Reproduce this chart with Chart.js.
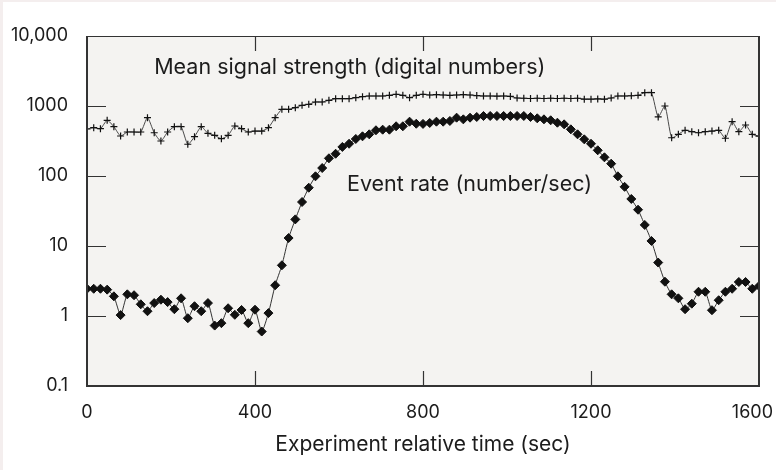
<!DOCTYPE html>
<html lang="en">
<head>
<meta charset="UTF-8">
<title>Event rate and mean signal strength</title>
<script src="https://cdn.jsdelivr.net/npm/chart.js@4.4.0/dist/chart.umd.min.js"></script>
<style>
  html, body { margin: 0; padding: 0; background: #f4eeee; }
  #wrap { width: 776px; height: 470px; }
</style>
</head>
<body>
<div id="wrap"><canvas id="chart" width="776" height="470"></canvas></div>
<script>
// Sample times (sec), one reading every 16 s
const timeSec = [
  0, 16, 32, 48, 64, 80, 96, 112, 128, 144,
  160, 176, 192, 208, 224, 240, 256, 272, 288, 304,
  320, 336, 352, 368, 384, 400, 416, 432, 448, 464,
  480, 496, 512, 528, 544, 560, 576, 592, 608, 624,
  640, 656, 672, 688, 704, 720, 736, 752, 768, 784,
  800, 816, 832, 848, 864, 880, 896, 912, 928, 944,
  960, 976, 992, 1008, 1024, 1040, 1056, 1072, 1088, 1104,
  1120, 1136, 1152, 1168, 1184, 1200, 1216, 1232, 1248, 1264,
  1280, 1296, 1312, 1328, 1344, 1360, 1376, 1392, 1408, 1424,
  1440, 1456, 1472, 1488, 1504, 1520, 1536, 1552, 1568, 1584, 1600
];

// Mean signal strength (digital numbers)
const signalStrength = [
  469, 490, 474, 625, 506, 373, 425, 425, 425, 681,
  415, 316, 425, 506, 506, 284, 364, 506, 407, 381,
  341, 381, 518, 474, 425, 439, 439, 490, 681, 897,
  897, 946, 1023, 1058, 1141, 1141, 1206, 1271, 1271, 1271,
  1315, 1359, 1389, 1389, 1389, 1422, 1469, 1422, 1315, 1422,
  1469, 1436, 1450, 1436, 1422, 1436, 1450, 1436, 1410, 1389,
  1389, 1380, 1389, 1370, 1300, 1290, 1280, 1290, 1280, 1290,
  1280, 1290, 1280, 1290, 1250, 1250, 1260, 1250, 1300, 1389,
  1389, 1400, 1422, 1549, 1549, 697, 1000, 352, 394, 450,
  430, 415, 430, 439, 450, 346, 597, 430, 535, 394, 372
];

// Event rate (number/sec)
const eventRate = [
  2.45, 2.45, 2.45, 2.38, 1.91, 1.03, 2.04, 1.98, 1.47, 1.17,
  1.53, 1.71, 1.58, 1.25, 1.79, 0.93, 1.38, 1.17, 1.53, 0.73,
  0.79, 1.29, 1.04, 1.22, 0.79, 1.23, 0.60, 1.10, 2.75, 5.3,
  13, 24, 42.5, 68, 99, 130, 179, 208, 260, 289,
  338, 369, 394, 450, 459, 459, 513, 513, 597, 558,
  555, 572, 597, 597, 611, 681, 645, 681, 697, 720,
  720, 720, 720, 720, 720, 720, 697, 667, 645, 625,
  577, 547, 464, 394, 334, 289, 233, 185, 150, 99,
  70, 47, 33, 20, 11.8, 5.8, 3.09, 2.04, 1.79, 1.25,
  1.50, 2.22, 2.22, 1.21, 1.68, 2.22, 2.45, 3.06, 3.06, 2.45, 2.68
];

const yTickValues = [0.1, 1, 10, 100, 1000, 10000];
const yTickLabels = ['0.1', '1', '10', '100', '1000', '10,000'];
const xTickValues = [0, 400, 800, 1200, 1600];
const xTickLabels = ['0', '400', '800', '1200', '1600'];

const INK = '#1c1c1c';
const FONT = 'Inter, "Liberation Sans", sans-serif';
Chart.defaults.font.family = FONT;
Chart.defaults.color = INK;

// page edge, white card and grey plot panel; frame, inner ticks and captions on top
const panel = {
  id: 'panel',
  beforeDraw(chart) {
    const { ctx, width, height, chartArea: a } = chart;
    ctx.save();
    ctx.fillStyle = '#f4eeee';
    ctx.fillRect(0, 0, width, height);
    ctx.fillStyle = '#ffffff';
    ctx.fillRect(3, 2, width - 3, height - 2);
    ctx.fillStyle = '#f4f3f1';
    ctx.fillRect(a.left, a.top, a.right - a.left, a.bottom - a.top);
    ctx.restore();
  },
  afterDraw(chart) {
    const { ctx, width, chartArea: a, scales: { x, y } } = chart;
    ctx.save();
    ctx.strokeStyle = '#333';
    // frame
    ctx.lineWidth = 2;
    ctx.beginPath();
    ctx.moveTo(a.left, a.top);
    ctx.lineTo(a.left, a.bottom);
    ctx.lineTo(a.right, a.bottom);
    ctx.lineTo(a.right, a.top);
    ctx.stroke();
    ctx.lineWidth = 1;
    ctx.beginPath();
    ctx.moveTo(a.left, a.top + 0.5);
    ctx.lineTo(a.right, a.top + 0.5);
    ctx.stroke();
    // inward tick marks
    ctx.lineWidth = 1.2;
    ctx.beginPath();
    yTickValues.slice(1, -1).forEach(v => {
      const py = Math.round(y.getPixelForValue(v)) + 0.5;
      ctx.moveTo(a.left, py); ctx.lineTo(a.left + 19, py);
      ctx.moveTo(a.right, py); ctx.lineTo(a.right - 19, py);
    });
    xTickValues.slice(1, -1).forEach(v => {
      const px = Math.round(x.getPixelForValue(v)) + 0.5;
      ctx.moveTo(px, a.bottom); ctx.lineTo(px, a.bottom - 15);
      ctx.moveTo(px, a.top); ctx.lineTo(px, a.top + 15);
    });
    ctx.stroke();

    ctx.fillStyle = INK;
    // x tick labels, kept inside the card at both ends
    ctx.font = '18px ' + FONT;
    ctx.textAlign = 'center';
    ctx.textBaseline = 'alphabetic';
    xTickValues.forEach((v, i) => {
      const half = ctx.measureText(xTickLabels[i]).width / 2;
      const px = Math.min(Math.max(x.getPixelForValue(v), 3 + half), width - 3 - half);
      ctx.fillText(xTickLabels[i], px, a.bottom + 32);
    });

    // series captions
    ctx.font = '21.5px ' + FONT;
    ctx.textAlign = 'left';
    ctx.fillText('Mean signal strength (digital numbers)', x.getPixelForValue(160), y.getPixelForValue(2900));
    ctx.fillText('Event rate (number/sec)', x.getPixelForValue(619), y.getPixelForValue(62));
    ctx.restore();
  }
};

const toPoints = vals => timeSec.map((t, i) => ({ x: t, y: vals[i] }));

new Chart(document.getElementById('chart'), {
  type: 'line',
  data: {
    datasets: [
      {
        label: 'Mean signal strength (digital numbers)',
        data: toPoints(signalStrength),
        borderColor: '#4a4a4a',
        borderWidth: 1,
        pointStyle: 'cross',
        pointRadius: 3.5,
        pointBorderWidth: 1.2,
        pointBorderColor: '#111',
        tension: 0.2,
        fill: false
      },
      {
        label: 'Event rate (number/sec)',
        data: toPoints(eventRate),
        borderColor: '#333',
        borderWidth: 1,
        pointStyle: 'rectRot',
        pointRadius: 4.5,
        pointBorderWidth: 1,
        pointBorderColor: '#111',
        pointBackgroundColor: '#111',
        tension: 0.2,
        fill: false
      }
    ]
  },
  options: {
    responsive: false,
    animation: false,
    layout: { padding: { top: 36, right: 17, left: 0, bottom: 0 } },
    plugins: { legend: { display: false }, tooltip: { enabled: false } },
    scales: {
      x: {
        type: 'linear',
        min: 0,
        max: 1600,
        grid: { display: false, drawTicks: false },
        border: { display: false },
        ticks: { display: false },
        afterBuildTicks: s => { s.ticks = xTickValues.map(v => ({ value: v })); },
        afterFit: s => { s.height = 84; s.paddingLeft = 0; s.paddingRight = 0; },
        title: {
          display: true,
          text: 'Experiment relative time (sec)',
          font: { size: 21 },
          padding: { top: 0, bottom: 13 }
        }
      },
      y: {
        type: 'logarithmic',
        min: 0.1,
        max: 10000,
        grid: { display: false, drawTicks: false },
        border: { display: false },
        ticks: {
          padding: 19,
          autoSkip: false,
          font: { size: 18 },
          callback: v => yTickLabels[yTickValues.indexOf(v)]
        },
        afterBuildTicks: s => { s.ticks = yTickValues.map(v => ({ value: v })); },
        afterFit: s => { s.width = 87; s.paddingTop = 0; s.paddingBottom = 0; }
      }
    }
  },
  plugins: [panel]
});
</script>
</body>
</html>
